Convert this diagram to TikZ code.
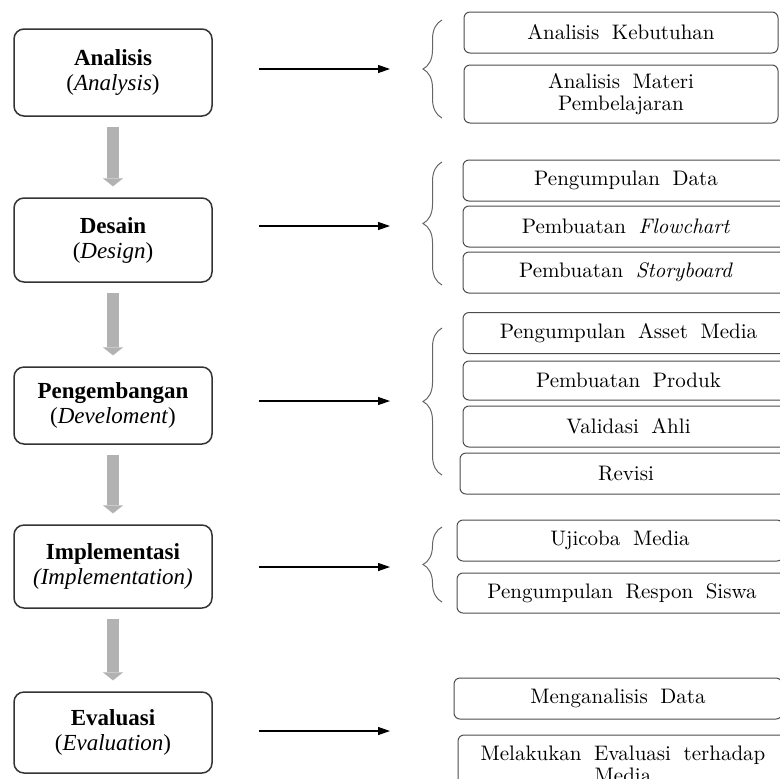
\documentclass[tikz,border=0pt]{standalone}
\usepackage{fontspec}
\newfontfamily\timesfont{Liberation Serif}
\usetikzlibrary{arrows.meta}
\usetikzlibrary{decorations.pathreplacing}

\begin{document}
\begin{tikzpicture}[x=0.5pt, y=-0.5pt]
    \tikzset{
        stagebox/.style={draw=black!80, line width=0.75pt, rounded corners=5pt, minimum width=99pt,
            align=center, inner sep=2pt, font=\timesfont\fontsize{11.5}{12.5}\selectfont},
        taskbox/.style={draw=black!70, line width=0.5pt, rounded corners=3pt, minimum height=20.5pt,
            align=center, inner sep=1pt, font={\fontsize{10.5}{11}\selectfont\spaceskip=0.6em plus 0.1em}},
        flowarrow/.style={draw=black!30, line width=6pt, -{Triangle[length=4pt, width=10pt, line width=0.01pt]},
            shorten <=5pt, shorten >=5.5pt},
        taskarrow/.style={line width=0.6pt, -{Triangle[length=6pt, width=4pt]}},
        taskbrace/.style={draw=black!60, line width=0.5pt, decorate, decoration={brace, amplitude=9.5pt}}
    }

    \useasboundingbox (0,0) rectangle (780,778);
    \clip (0,0) rectangle (780,778);

    % stages
    \node [stagebox, minimum height=43.5pt] (analisis) at (113,72.5) {\textbf{Analisis}\\(\textit{Analysis})};
    \node [stagebox, minimum height=42pt] (desain) at (113,240) {\textbf{Desain}\\(\textit{Design})};
    \node [stagebox, minimum height=38.5pt] (pengembangan) at (113,405.5) {\textbf{Pengembangan}\\(\textit{Develoment})};
    \node [stagebox, minimum height=41.5pt] (implementasi) at (113,566.5) {\textbf{Implementasi}\\\textit{(Implementation)}};
    \node [stagebox, minimum height=40.5pt] (evaluasi) at (113,732.5) {\textbf{Evaluasi}\\(\textit{Evaluation})};

    \draw [flowarrow] (analisis) -- (desain);
    \draw [flowarrow] (desain) -- (pengembangan);
    \draw [flowarrow] (pengembangan) -- (implementasi);
    \draw [flowarrow] (implementasi) -- (evaluasi);

    % arrows to the tasks
    \coordinate (anain) at (390,69);
    \coordinate (desin) at (390,226);
    \coordinate (pengin) at (390,401);
    \coordinate (implin) at (390,567);
    \coordinate (evalin) at (390,731);
    \draw [taskarrow] ([xshift=23pt]analisis.east |- anain) -- (anain);
    \draw [taskarrow] ([xshift=23pt]desain.east |- desin) -- (desin);
    \draw [taskarrow] ([xshift=23pt]pengembangan.east |- pengin) -- (pengin);
    \draw [taskarrow] ([xshift=23pt]implementasi.east |- implin) -- (implin);
    \draw [taskarrow] ([xshift=23pt]evaluasi.east |- evalin) -- (evalin);

    % tasks
    \node [taskbox, minimum width=157pt] (kebutuhan) at (621,32.5) {Analisis Kebutuhan};
    \node [taskbox, minimum width=157pt, minimum height=29pt] (materi) at (621,94) {Analisis Materi\\Pembelajaran};

    \node [taskbox, minimum width=163pt] (pdata) at (626,180.5) {Pengumpulan Data};
    \node [taskbox, minimum width=163pt] (flowchart) at (626,226.5) {Pembuatan \textit{Flowchart}};
    \node [taskbox, minimum width=163pt] (storyboard) at (626,272.5) {Pembuatan \textit{Storyboard}};

    \node [taskbox, minimum width=165.5pt] (asset) at (628.5,333) {Pengumpulan Asset Media};
    \node [taskbox, minimum width=165.5pt, minimum height=19.5pt] (produk) at (628.5,380.5) {Pembuatan Produk};
    \node [taskbox, minimum width=165.5pt] (validasi) at (628.5,426.5) {Validasi Ahli};
    \node [taskbox, minimum width=166pt] (revisi) at (626,473.5) {Revisi};

    \node [taskbox, minimum width=163pt] (ujicoba) at (620,540.5) {Ujicoba Media};
    \node [taskbox, minimum width=165pt, minimum height=20pt] (respon) at (622,593) {Pengumpulan Respon Siswa};

    \node [taskbox, minimum width=164pt] (menganalisis) at (618,698.5) {Menganalisis Data};
    \node [taskbox, minimum width=165pt, minimum height=29pt] (melakukan) at (623,764) {Melakukan Evaluasi terhadap\\Media};

    % braces
    \draw [taskbrace] (442,118) -- (442,20);
    \draw [taskbrace] (442,285) -- (442,162);
    \draw [taskbrace] (442,475) -- (442,328);
    \draw [taskbrace] (442,602) -- (442,527);

\end{tikzpicture}
\end{document}
